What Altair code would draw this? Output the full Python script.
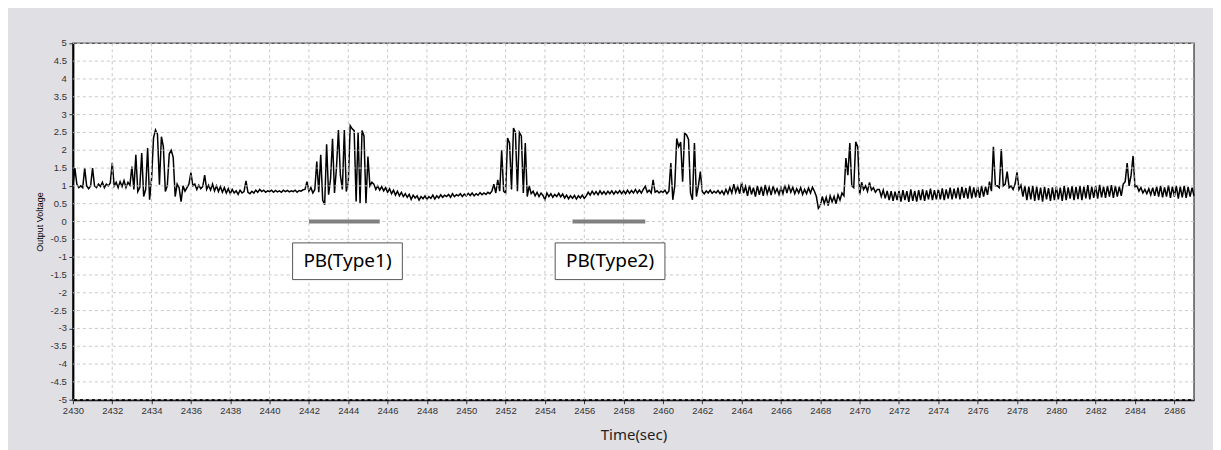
import altair as alt
import pandas as pd

volt_2430 = [
    1.0, 1.5, 1.05, 0.95, 1.0, 0.95, 1.5, 1.0, 0.92, 1.0,
    1.5, 1.0, 0.95, 1.05, 0.98, 1.1, 0.95, 1.05, 1.0, 1.08,
    1.65, 1.0, 1.1, 0.95, 1.12, 0.98, 1.15, 0.95, 1.1, 1.02,
    1.54, 0.9, 1.87, 0.84, 0.95, 1.92, 0.7, 0.9, 2.06, 0.61,
    1.2, 2.35, 2.57, 2.45, 1.03, 2.38, 2.1, 0.84, 1.0, 1.9,
    2.0, 1.8, 0.7, 1.05, 0.95, 0.56, 1.0, 0.85, 0.95, 1.05,
    1.37, 1.0, 1.05, 0.9, 1.02, 0.92, 0.98, 1.3, 0.9, 1.02,
    0.88, 1.05, 0.86, 1.0, 0.84, 0.98, 0.82, 0.95, 0.8, 0.92,
    0.78, 0.9, 0.8, 0.86, 0.76, 0.88, 0.8, 0.84, 1.14, 0.82,
    0.78, 0.85, 0.8, 0.88, 0.82, 0.9, 0.84, 0.88, 0.82, 0.86,
]
volt_2440 = [
    0.84, 0.88, 0.82, 0.87, 0.83, 0.86, 0.82, 0.88, 0.84, 0.87,
    0.83, 0.86, 0.84, 0.88, 0.82, 0.87, 0.85, 0.89, 0.9, 1.12,
    0.85, 0.95, 0.8, 0.9, 1.68, 0.82, 1.87, 0.6, 0.47, 2.17,
    0.75, 1.2, 2.32, 0.8, 1.5, 2.57, 1.3, 0.9, 2.57, 0.84,
    1.1, 2.69, 2.6, 2.55, 0.56, 2.5, 0.52, 2.55, 2.4, 0.52,
    1.82, 1.0, 1.1, 1.05, 0.9, 1.0, 0.88, 0.98, 0.86, 0.95,
    0.82, 0.92, 0.78, 0.88, 0.74, 0.85, 0.72, 0.82, 0.7, 0.78,
    0.68, 0.76, 0.62, 0.74, 0.66, 0.72, 0.6, 0.7, 0.64, 0.72,
    0.62, 0.7, 0.65, 0.74, 0.63, 0.72, 0.66, 0.75, 0.68, 0.74,
    0.7, 0.76, 0.68, 0.78, 0.7, 0.75, 0.72, 0.78, 0.7, 0.77,
]
volt_2450 = [
    0.72, 0.79, 0.73, 0.8, 0.72, 0.78, 0.74, 0.81, 0.75, 0.8,
    0.76, 0.82, 0.78, 0.85, 1.05, 0.8, 1.17, 0.85, 2.0, 0.85,
    0.8, 2.34, 2.2, 0.9, 2.62, 2.5, 0.85, 2.5, 2.4, 0.8,
    2.2, 0.7, 1.0, 0.78, 0.85, 0.72, 0.82, 0.7, 0.8, 0.73,
    0.61, 0.8, 0.7, 0.78, 0.68, 0.76, 0.7, 0.79, 0.69, 0.77,
    0.66, 0.74, 0.64, 0.72, 0.65, 0.73, 0.63, 0.72, 0.66, 0.74,
    0.65, 0.72, 0.82, 0.74, 0.85, 0.76, 0.84, 0.75, 0.86, 0.77,
    0.84, 0.76, 0.85, 0.78, 0.86, 0.77, 0.85, 0.79, 0.87, 0.78,
    0.86, 0.78, 0.88, 0.79, 0.87, 0.8, 0.9, 0.8, 0.88, 0.8,
    0.9, 0.99, 0.82, 0.88, 0.8, 1.17, 0.82, 0.86, 0.8, 0.85,
]
volt_2460 = [
    0.82, 0.88, 0.78, 0.85, 1.64, 0.61, 1.0, 2.33, 2.1, 2.23,
    1.12, 2.48, 2.43, 2.3, 0.8, 0.61, 2.2, 0.7, 1.0, 1.4,
    0.84, 0.78, 0.86, 0.8, 0.88, 0.79, 0.85, 0.8, 0.87, 0.78,
    0.86, 0.76, 0.9, 0.78, 0.95, 0.8, 1.05, 0.82, 0.98, 0.78,
    1.1, 0.8, 0.98, 0.72, 1.02, 0.76, 0.95, 0.7, 1.0, 0.75,
    0.98, 0.72, 1.03, 0.78, 0.96, 0.74, 1.0, 0.8, 0.92, 0.76,
    0.95, 0.78, 1.03, 0.8, 1.0, 0.82, 0.96, 0.78, 0.92, 0.8,
    0.95, 0.76, 0.9, 0.78, 0.94, 0.8, 0.96, 0.85, 0.7, 0.37,
    0.45, 0.7, 0.5, 0.68, 0.45, 0.72, 0.55, 0.7, 0.5, 0.75,
    0.6, 0.8, 0.72, 1.78, 1.3, 2.2, 1.0, 0.95, 2.24, 2.1,
]
volt_2470 = [
    0.75, 1.1, 0.9, 1.0, 0.85, 1.1, 0.88, 0.95, 0.82, 0.9,
    0.9, 0.7, 0.88, 0.65, 0.86, 0.6, 0.85, 0.58, 0.84, 0.6,
    0.86, 0.56, 0.88, 0.6, 0.85, 0.55, 0.9, 0.58, 0.86, 0.56,
    0.88, 0.6, 0.9, 0.58, 0.87, 0.62, 0.92, 0.6, 0.88, 0.62,
    0.9, 0.62, 0.93, 0.6, 0.9, 0.64, 0.95, 0.62, 0.92, 0.65,
    0.95, 0.62, 0.97, 0.66, 0.94, 0.64, 1.0, 0.65, 0.96, 0.68,
    0.97, 0.66, 1.0, 0.7, 0.98, 0.75, 1.12, 0.85, 2.1, 1.0,
    1.0, 0.95, 2.03, 1.0, 1.05, 1.4, 0.95, 1.0, 0.9, 1.05,
    1.38, 0.9, 1.02, 0.7, 1.0, 0.6, 0.98, 0.62, 1.0, 0.58,
    0.98, 0.6, 0.95, 0.56, 0.97, 0.62, 0.94, 0.58, 0.96, 0.6,
]
volt_2480 = [
    0.98, 0.62, 0.95, 0.58, 1.0, 0.6, 0.96, 0.64, 0.99, 0.6,
    0.97, 0.63, 1.0, 0.6, 0.98, 0.65, 1.02, 0.62, 0.98, 0.66,
    1.0, 0.64, 1.03, 0.68, 0.98, 0.66, 1.0, 0.7, 1.02, 0.66,
    1.0, 0.7, 0.98, 0.72, 1.05, 1.12, 1.64, 1.0, 1.3, 1.84,
    0.97, 1.0, 0.85, 0.95, 0.8, 0.9, 0.78, 0.92, 0.75, 0.95,
    0.72, 0.98, 0.7, 1.0, 0.68, 0.96, 0.7, 1.02, 0.66, 0.98,
    0.7, 1.0, 0.64, 0.98, 0.68, 1.0, 0.66, 0.97, 0.7, 0.95,
    0.72,
]
t_start = 2430.0
t_step = 0.1

# ---- axes / grid ----
x_ticks = list(range(2430, 2488))
x_grid = [2432, 2434, 2436, 2438, 2440, 2442, 2444, 2446, 2448, 2450, 2452, 2454,
          2456, 2458, 2460, 2462, 2464, 2466, 2468, 2470, 2472, 2474, 2476, 2478,
          2480, 2482, 2484, 2486]
y_ticks = [-5, -4.5, -4, -3.5, -3, -2.5, -2, -1.5, -1, -0.5, 0,
           0.5, 1, 1.5, 2, 2.5, 3, 3.5, 4, 4.5, 5]
y_labels = ["-5", "-4.5", "-4", "-3.5", "-3", "-2.5", "-2", "-1.5", "-1", "-0.5", "0",
            "0.5", "1", "1.5", "2", "2.5", "3", "3.5", "4", "4.5", "5"]

# ---- annotations ----
pb_labels = ["PB(Type1)", "PB(Type2)"]
pb_start = [2442.0, 2455.4]
pb_end = [2445.6, 2459.1]
pb_level = [0.0, 0.0]
box_x1 = [2441.17, 2454.52]
box_x2 = [2446.75, 2460.1]
box_y1 = [-0.6, -0.6]
box_y2 = [-1.63, -1.63]
label_x = [2443.96, 2457.31]
label_y = [-1.12, -1.12]

volts = volt_2430 + volt_2440 + volt_2450 + volt_2460 + volt_2470 + volt_2480
sig = pd.DataFrame({
    "t": [round(t_start + i * t_step, 2) for i in range(len(volts))],
    "v": volts,
})
ann = pd.DataFrame({
    "label": pb_labels, "s": pb_start, "e": pb_end, "lvl": pb_level,
    "bx1": box_x1, "bx2": box_x2, "by1": box_y1, "by2": box_y2,
    "lx": label_x, "ly": label_y,
})
gx = pd.DataFrame({"gx": x_grid})
gy = pd.DataFrame({"gy": y_ticks, "lbl": y_labels})

xscale = alt.Scale(domain=[2430, 2487], nice=False, zero=False)
yscale = alt.Scale(domain=[-5, 5], nice=False, zero=False)

x_axis = alt.Axis(
    values=x_ticks, format="d",
    labelExpr="datum.value % 2 == 0 ? datum.label : ''",
    title="Time(sec)", titleFont="Noto Sans", titleFontSize=15,
    titleColor="#222222", titlePadding=12,
)
y_axis = alt.Axis(
    values=y_ticks, labels=False,
    title="Output Voltage", titleFont="Liberation Sans", titleFontSize=9,
    titleColor="black", titlePadding=24,
)

line = alt.Chart(sig).mark_line(color="black", strokeWidth=1.5).encode(
    x=alt.X("t:Q", scale=xscale, axis=x_axis),
    y=alt.Y("v:Q", scale=yscale, axis=y_axis),
)
grid_x = alt.Chart(gx).mark_rule(color="#c8c8c8", strokeDash=[3, 3], strokeWidth=1).encode(
    x="gx:Q"
)
grid_y = alt.Chart(gy).mark_rule(color="#c8c8c8", strokeDash=[3, 3], strokeWidth=1).encode(
    y="gy:Q"
)
y_text = alt.Chart(gy).mark_text(
    font="Liberation Sans", fontSize=9.5, color="#333333",
    align="right", baseline="middle", dx=-6,
).encode(y="gy:Q", x=alt.value(0), text="lbl:N")
bars = alt.Chart(ann).mark_rule(color="#808080", strokeWidth=4).encode(
    x="s:Q", x2="e:Q", y="lvl:Q"
)
boxes = alt.Chart(ann).mark_rect(fill="white", stroke="#555555", strokeWidth=1).encode(
    x="bx1:Q", x2="bx2:Q", y="by1:Q", y2="by2:Q"
)
texts = alt.Chart(ann).mark_text(font="Noto Sans", fontSize=19, color="black",
                                  baseline="middle", align="center").encode(
    x="lx:Q", y="ly:Q", text="label:N"
)

chart = alt.layer(line, grid_x, grid_y, y_text, bars, boxes, texts).properties(
    width=1123, height=357,
    padding={"left": 65, "top": 35, "right": 19, "bottom": 52},
    autosize=alt.AutoSizeParams(type="none"),
    background="#e0dfe4",
).configure_view(
    fill="white", stroke="#555555", strokeWidth=1.5
).configure_axis(
    grid=False, labelFont="Liberation Sans", labelFontSize=9.5,
    labelColor="#333333", tickColor="#333333", tickSize=4, labelPadding=2,
    labelFlush=False, labelOverlap=False, domainColor="black", domainWidth=2,
    titleFontWeight="normal",
)

chart.save("out.html", embed_options={"renderer": "svg", "actions": False})
